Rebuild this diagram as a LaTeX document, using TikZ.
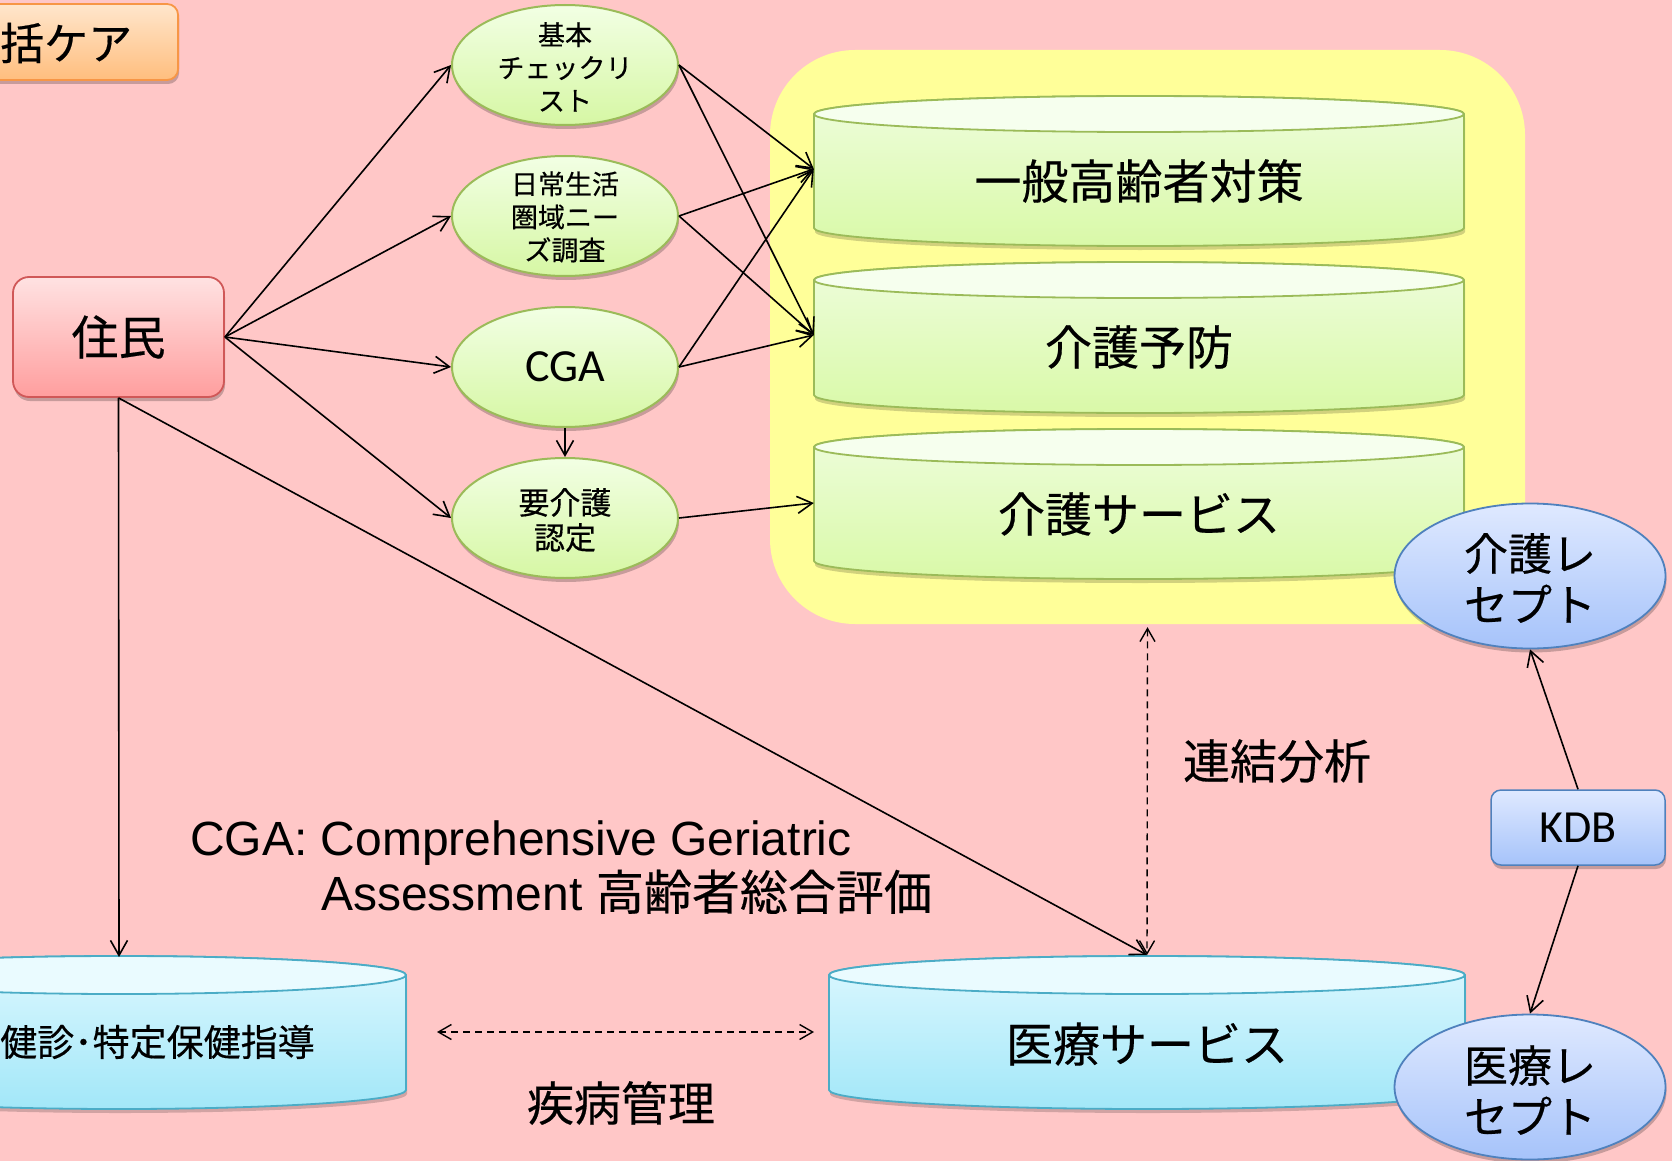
\documentclass[tikz,border=0pt]{standalone}
\usepackage{fontspec}
\setmainfont{Liberation Sans}
\newfontfamily\jpfont[FakeBold=0.4]{Noto Sans CJK JP}
\newfontfamily\calfont{Carlito}
\usetikzlibrary{shapes.geometric,arrows.meta,shadows}

\definecolor{bgpink}{HTML}{FFC7C7}
\definecolor{yellowbg}{HTML}{FFFF99}
\definecolor{grtop}{HTML}{F2FFE4}
\definecolor{grbot}{HTML}{D6F7A4}
\definecolor{grline}{HTML}{9BBB59}
\definecolor{cgface}{HTML}{F6FFEE}
\definecolor{cgtop}{HTML}{EEFDDC}
\definecolor{cgbot}{HTML}{D9F9A8}
\definecolor{cbface}{HTML}{EAFBFF}
\definecolor{cbtop}{HTML}{DDF8FF}
\definecolor{cbbot}{HTML}{A2E7F8}
\definecolor{cbline}{HTML}{4BACC6}
\definecolor{bltop}{HTML}{DFE9FF}
\definecolor{blbot}{HTML}{A6C3FA}
\definecolor{blline}{HTML}{4F81BD}
\definecolor{pktop}{HTML}{FFE2E2}
\definecolor{pkbot}{HTML}{FF9E9E}
\definecolor{pkline}{HTML}{D05858}
\definecolor{ortop}{HTML}{FFE6CC}
\definecolor{orbot}{HTML}{FFBE7E}
\definecolor{orline}{HTML}{F79646}

% cylinder: xl xr yt yb ry face bodytop bodybottom border
\newcommand\cylbody[9]{%
  \path[fill=black,opacity=0.18,shift={(1,-4)}] (#1,#3) -- (#1,#4)
    arc[start angle=180,end angle=360,x radius={((#2)-(#1))/2},y radius=#5] -- (#2,#3)
    arc[start angle=0,end angle=180,x radius={((#2)-(#1))/2},y radius=#5] -- cycle;
  \path[top color=#7,bottom color=#8,draw=#9,line width=1.8pt] (#1,#3) -- (#1,#4)
    arc[start angle=180,end angle=360,x radius={((#2)-(#1))/2},y radius=#5] -- (#2,#3)
    arc[start angle=0,end angle=180,x radius={((#2)-(#1))/2},y radius=#5] -- cycle;
  \path[fill=#6,draw=#9,line width=1.8pt] ({((#1)+(#2))/2},#3)
    ellipse[x radius={((#2)-(#1))/2},y radius=#5];
}

\begin{document}
\begin{tikzpicture}[x=1pt,y=1pt,line join=round,
  arr/.style={line width=1.6pt,-{Straight Barb[length=15pt,width=17pt]}},
  darr/.style={line width=1.4pt,dash pattern=on 7pt off 5pt,
    {Straight Barb[length=13pt,width=15pt]}-{Straight Barb[length=13pt,width=15pt]}},
  shd/.style={drop shadow={shadow xshift=1pt,shadow yshift=-4pt,opacity=0.22,fill=black}},
  gell/.style={ellipse,minimum width=226pt,minimum height=120pt,inner sep=0pt,
    draw=grline,line width=2pt,top color=grtop,bottom color=grbot,shd},
  bell/.style={ellipse,minimum width=271pt,minimum height=145pt,inner sep=0pt,
    draw=blline,line width=1.8pt,top color=bltop,bottom color=blbot,shd},
  tx/.style={inner sep=0pt,align=center},
  jbig/.style={tx,font=\jpfont\fontsize{47}{51}\selectfont},
]
\useasboundingbox (0,0) rectangle (1672,-1161);
\clip (0,0) rectangle (1672,-1161);
\fill[bgpink] (0,0) rectangle (1672,-1161);

% yellow region
\node[fill=yellowbg,rounded corners=85pt,minimum width=755pt,minimum height=574pt,inner sep=0pt]
  (care) at (1147.5,-337) {};

% title box (clipped at left)
\node[draw=orline,line width=1.8pt,top color=ortop,bottom color=orbot,rounded corners=11pt,
  minimum width=379pt,minimum height=76pt,inner sep=0pt,anchor=east,shd] (title) at (179,-42) {};
\node[tx,anchor=west,font=\jpfont\fontsize{44}{44}\selectfont] (titletext) at (0,-43) {括ケア};

% 住民
\node[draw=pkline,line width=1.8pt,top color=pktop,bottom color=pkbot,rounded corners=16pt,
  minimum width=211pt,minimum height=120pt,inner sep=0pt,shd,
  font=\jpfont\fontsize{47}{47}\selectfont] (jumin) at (118.5,-337) {住民};

% green ellipses
\node[gell] (e1) at (565,-65) {};
\node[tx,font=\jpfont\fontsize{27}{33}\selectfont] (e1t) at (565,-67) {基本\\チェックリ\\スト};
\node[gell] (e2) at (565,-216) {};
\node[tx,font=\jpfont\fontsize{27}{33}\selectfont] (e2t) at (565,-217) {日常生活\\圏域ニー\\ズ調査};
\node[gell,font=\calfont\fontsize{46}{46}\selectfont] (e3) at (565,-367) {CGA};
\node[gell] (e4) at (565,-518) {};
\node[tx,font=\jpfont\fontsize{31}{35}\selectfont] (e4t) at (565,-520) {要介護\\認定};

% green cylinders
\cylbody{814}{1464}{-114}{-228}{18}{cgface}{cgtop}{cgbot}{grline}
\cylbody{814}{1464}{-280}{-395}{18}{cgface}{cgtop}{cgbot}{grline}
\cylbody{814}{1464}{-447}{-561}{18}{cgface}{cgtop}{cgbot}{grline}
\node[jbig,minimum width=650pt] (c1) at (1139,-181) {一般高齢者対策};
\node[jbig,minimum width=650pt] (c2) at (1139,-347) {介護予防};
\node[jbig,minimum width=650pt] (c3) at (1139,-514) {介護サービス};

% blue cylinders
\cylbody{-168}{406}{-975}{-1090}{19}{cbface}{cbtop}{cbbot}{cbline}
\cylbody{829}{1465}{-975}{-1090}{19}{cbface}{cbtop}{cbbot}{cbline}
\node[tx,anchor=west,font=\jpfont\fontsize{37}{37}\selectfont] (c4) at (0,-1042) {健診･特定保健指導};
\node[jbig,minimum width=636pt] (c5) at (1147,-1044) {医療サービス};
\coordinate (c4top) at (119,-957);
\coordinate (c4right) at (406,-1032);
\coordinate (c5left) at (829,-1032);
\coordinate (c5top) at (1147,-955);

% receipts and KDB
\node[bell] (r1) at (1530,-576) {};
\node[tx,font=\jpfont\fontsize{44}{51}\selectfont] (r1t) at (1530,-578) {介護レ\\セプト};
\node[bell] (r2) at (1530,-1087) {};
\node[tx,font=\jpfont\fontsize{44}{51}\selectfont] (r2t) at (1530,-1090) {医療レ\\セプト};
\node[draw=blline,line width=1.5pt,top color=bltop,bottom color=blbot,rounded corners=10pt,
  minimum width=174pt,minimum height=75pt,inner sep=0pt,shd,
  font=\calfont\fontsize{46}{46}\selectfont] (kdb) at (1578,-827.5) {KDB};

% labels
\node[jbig] (renketsu) at (1277,-761) {連結分析};
\node[jbig] (shippei) at (621,-1103) {疾病管理};
\node[inner sep=0pt,anchor=base west,font=\fontsize{48}{48}\selectfont] (cap1) at (190,-855)
  {CGA: Comprehensive Geriatric};
\node[inner sep=0pt,anchor=base west,font=\fontsize{48}{48}\selectfont] (cap2) at (321,-910)
  {Assessment {\jpfont 高齢者総合評価}};

% connectors
\draw[arr] (jumin.east) -- (e1.west);
\draw[arr] (jumin.east) -- (e2.west);
\draw[arr] (jumin.east) -- (e3.west);
\draw[arr] (jumin.east) -- (e4.west);
\draw[arr] (jumin.south) -- (c4top);
\draw[arr] (jumin.south) -- (c5top);
\draw[arr] (e3.south) -- (e4.north);
\draw[arr] (e1.east) -- ([yshift=12pt]c1.west);
\draw[arr] (e1.east) -- ([yshift=12pt]c2.west);
\draw[arr] (e2.east) -- ([yshift=12pt]c1.west);
\draw[arr] (e2.east) -- ([yshift=12pt]c2.west);
\draw[arr] (e3.east) -- ([yshift=12pt]c1.west);
\draw[arr] (e3.east) -- ([yshift=12pt]c2.west);
\draw[arr] (e4.east) -- ([yshift=11pt]c3.west);
\draw[darr] ([yshift=-3pt]care.south) -- (c5top);
\draw[darr] ([xshift=31pt]c4right) -- ([xshift=-15pt]c5left);
\draw[arr] (kdb.north) -- (r1.south);
\draw[arr] (kdb.south) -- (r2.north);
\end{tikzpicture}
\end{document}
